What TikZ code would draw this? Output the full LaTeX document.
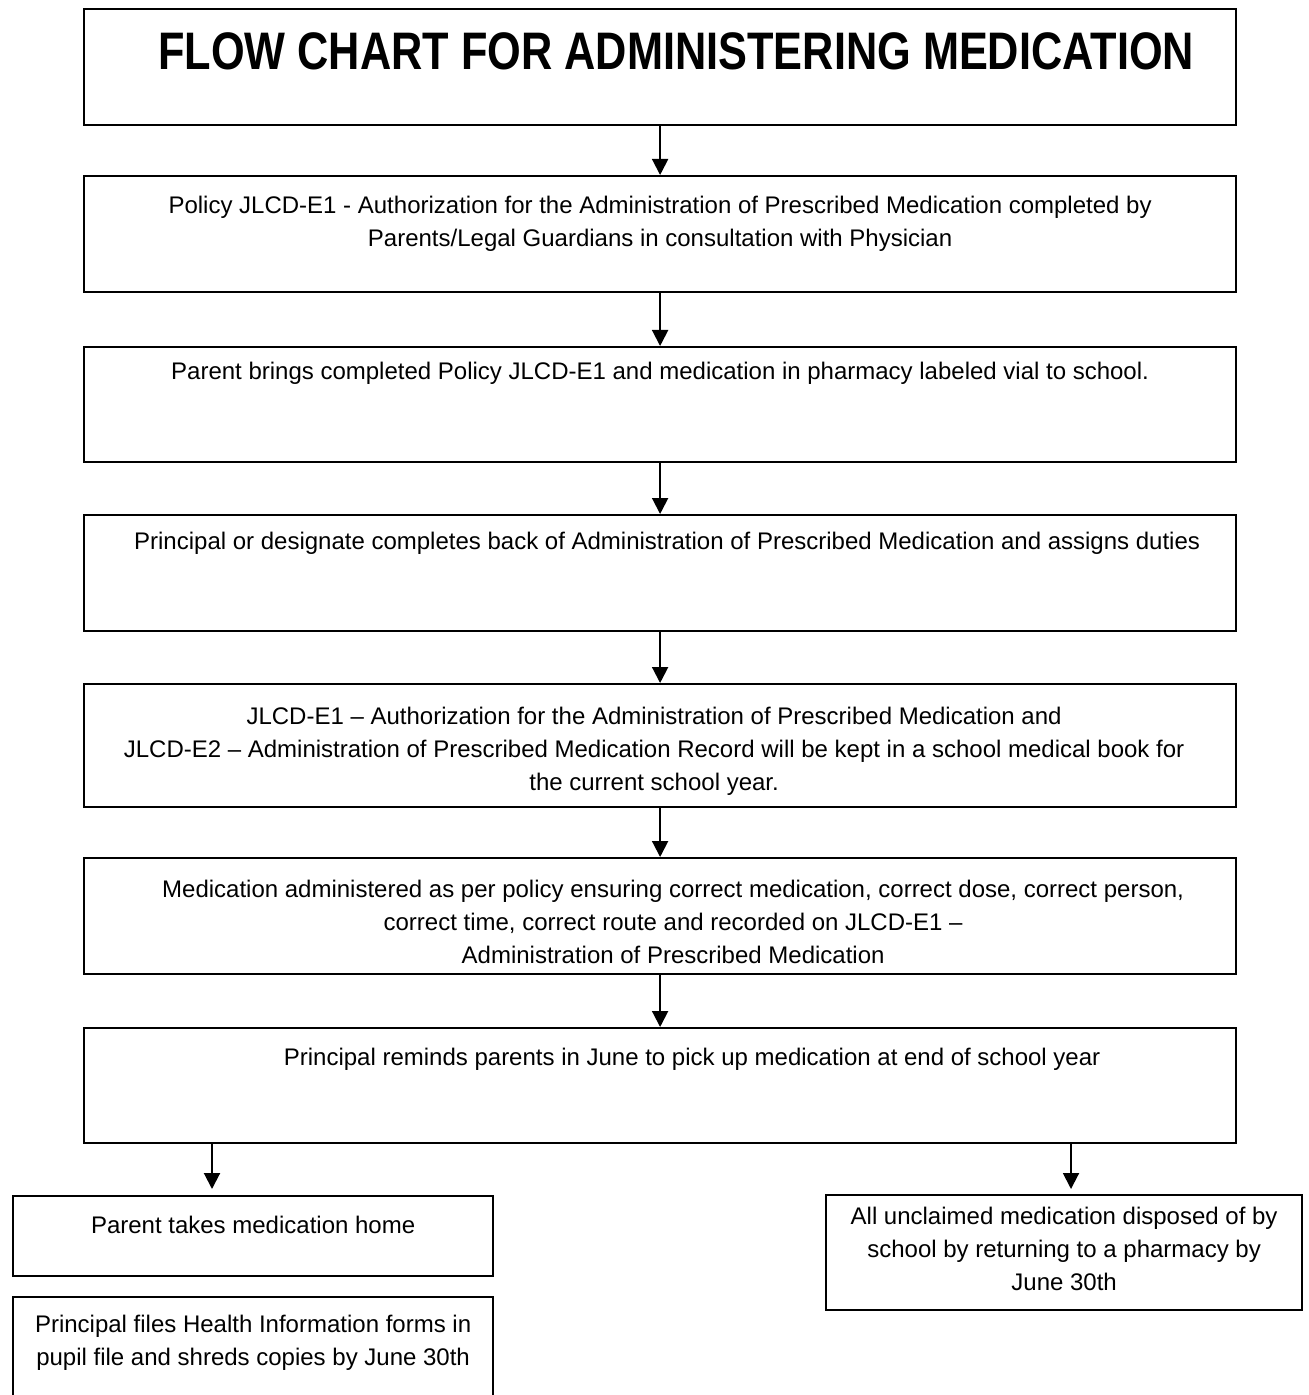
\documentclass[tikz,border=0pt]{standalone}
\usepackage{fontspec}
\setmainfont{Liberation Sans}
\newfontfamily\titulofont[FakeStretch=0.82]{Liberation Sans}
\usetikzlibrary{positioning,arrows.meta}
\begin{document}
\begin{tikzpicture}[x=1pt,y=-1pt]
% estilos de linea y texto
\tikzstyle{caja} = [draw,line width=1.1pt,inner sep=0pt,anchor=north west]
\tikzstyle{texto} = [inner sep=0pt,align=center,font=\fontsize{12}{16.5}\selectfont]
\tikzstyle{flecha} = [line width=1pt,-{Triangle[width=8pt,length=8pt]}]
% definicion caja con texto
% #1: nombre de la caja
% #2: esquina superior izquierda
% #3: ancho de la caja
% #4: alto de la caja
% #5: separacion entre borde superior y texto
% #6: desplazamiento horizontal del texto
% #7: texto
\newcommand{\caja}[7]{
\node [caja,minimum width=#3,minimum height=#4] (#1) at #2 {};
\node [texto,below=#5 of #1.north,xshift=#6] (#1-txt) {#7};
}
% --------------------------------------
\useasboundingbox (0,0) rectangle (654,697.5);
% --------------------------------------
% dibujar cajas
\caja{titulo}{(41.5,4)}{576pt}{58pt}{11.9pt}{8pt}{\titulofont\fontsize{26.4}{30}\selectfont\bfseries FLOW CHART FOR ADMINISTERING MEDICATION}
\caja{autoriza}{(41.5,87.5)}{576pt}{58pt}{10.5pt}{0pt}{Policy JLCD-E1 - Authorization for the Administration of Prescribed Medication completed by\\Parents/Legal Guardians in consultation with Physician}
\caja{entrega}{(41.5,173)}{576pt}{57.5pt}{7.75pt}{0pt}{Parent brings completed Policy JLCD-E1 and medication in pharmacy labeled vial to school.}
\caja{director}{(41.5,257)}{576pt}{58pt}{8.75pt}{3.5pt}{Principal or designate completes back of Administration of Prescribed Medication and assigns duties}
\caja{registro}{(41.5,341.5)}{576pt}{61.5pt}{11.75pt}{-3pt}{JLCD-E1 -- Authorization for the Administration of Prescribed Medication and\\JLCD-E2 -- Administration of Prescribed Medication Record will be kept in a school medical book for\\the current school year.}
\caja{administra}{(41.5,428.5)}{576pt}{58pt}{11.25pt}{6.5pt}{Medication administered as per policy ensuring correct medication, correct dose, correct person,\\correct time, correct route and recorded on JLCD-E1 --\\Administration of Prescribed Medication}
\caja{recuerda}{(41.5,513.5)}{576pt}{57.5pt}{10.25pt}{16pt}{Principal reminds parents in June to pick up medication at end of school year}
\caja{casa}{(6,597.5)}{240pt}{40pt}{10.25pt}{0pt}{Parent takes medication home}
\caja{archivo}{(6,648)}{240pt}{62pt}{9.5pt}{0pt}{Principal files Health Information forms in\\pupil file and shreds copies by June 30th}
\caja{farmacia}{(412.5,597)}{238pt}{57.5pt}{6.5pt}{0pt}{All unclaimed medication disposed of by\\school by returning to a pharmacy by\\June 30th}
% dibujar flechas
\draw [flecha] (titulo) -- (autoriza);
\draw [flecha] (autoriza) -- (entrega);
\draw [flecha] (entrega) -- (director);
\draw [flecha] (director) -- (registro);
\draw [flecha] (registro) -- (administra);
\draw [flecha] (administra) -- (recuerda);
\coordinate (izq) at (106,594.5);
\coordinate (der) at (535.5,594.5);
\draw [flecha] (recuerda.south -| izq) -- (izq);
\draw [flecha] (recuerda.south -| der) -- (der);
\end{tikzpicture}
\end{document}
